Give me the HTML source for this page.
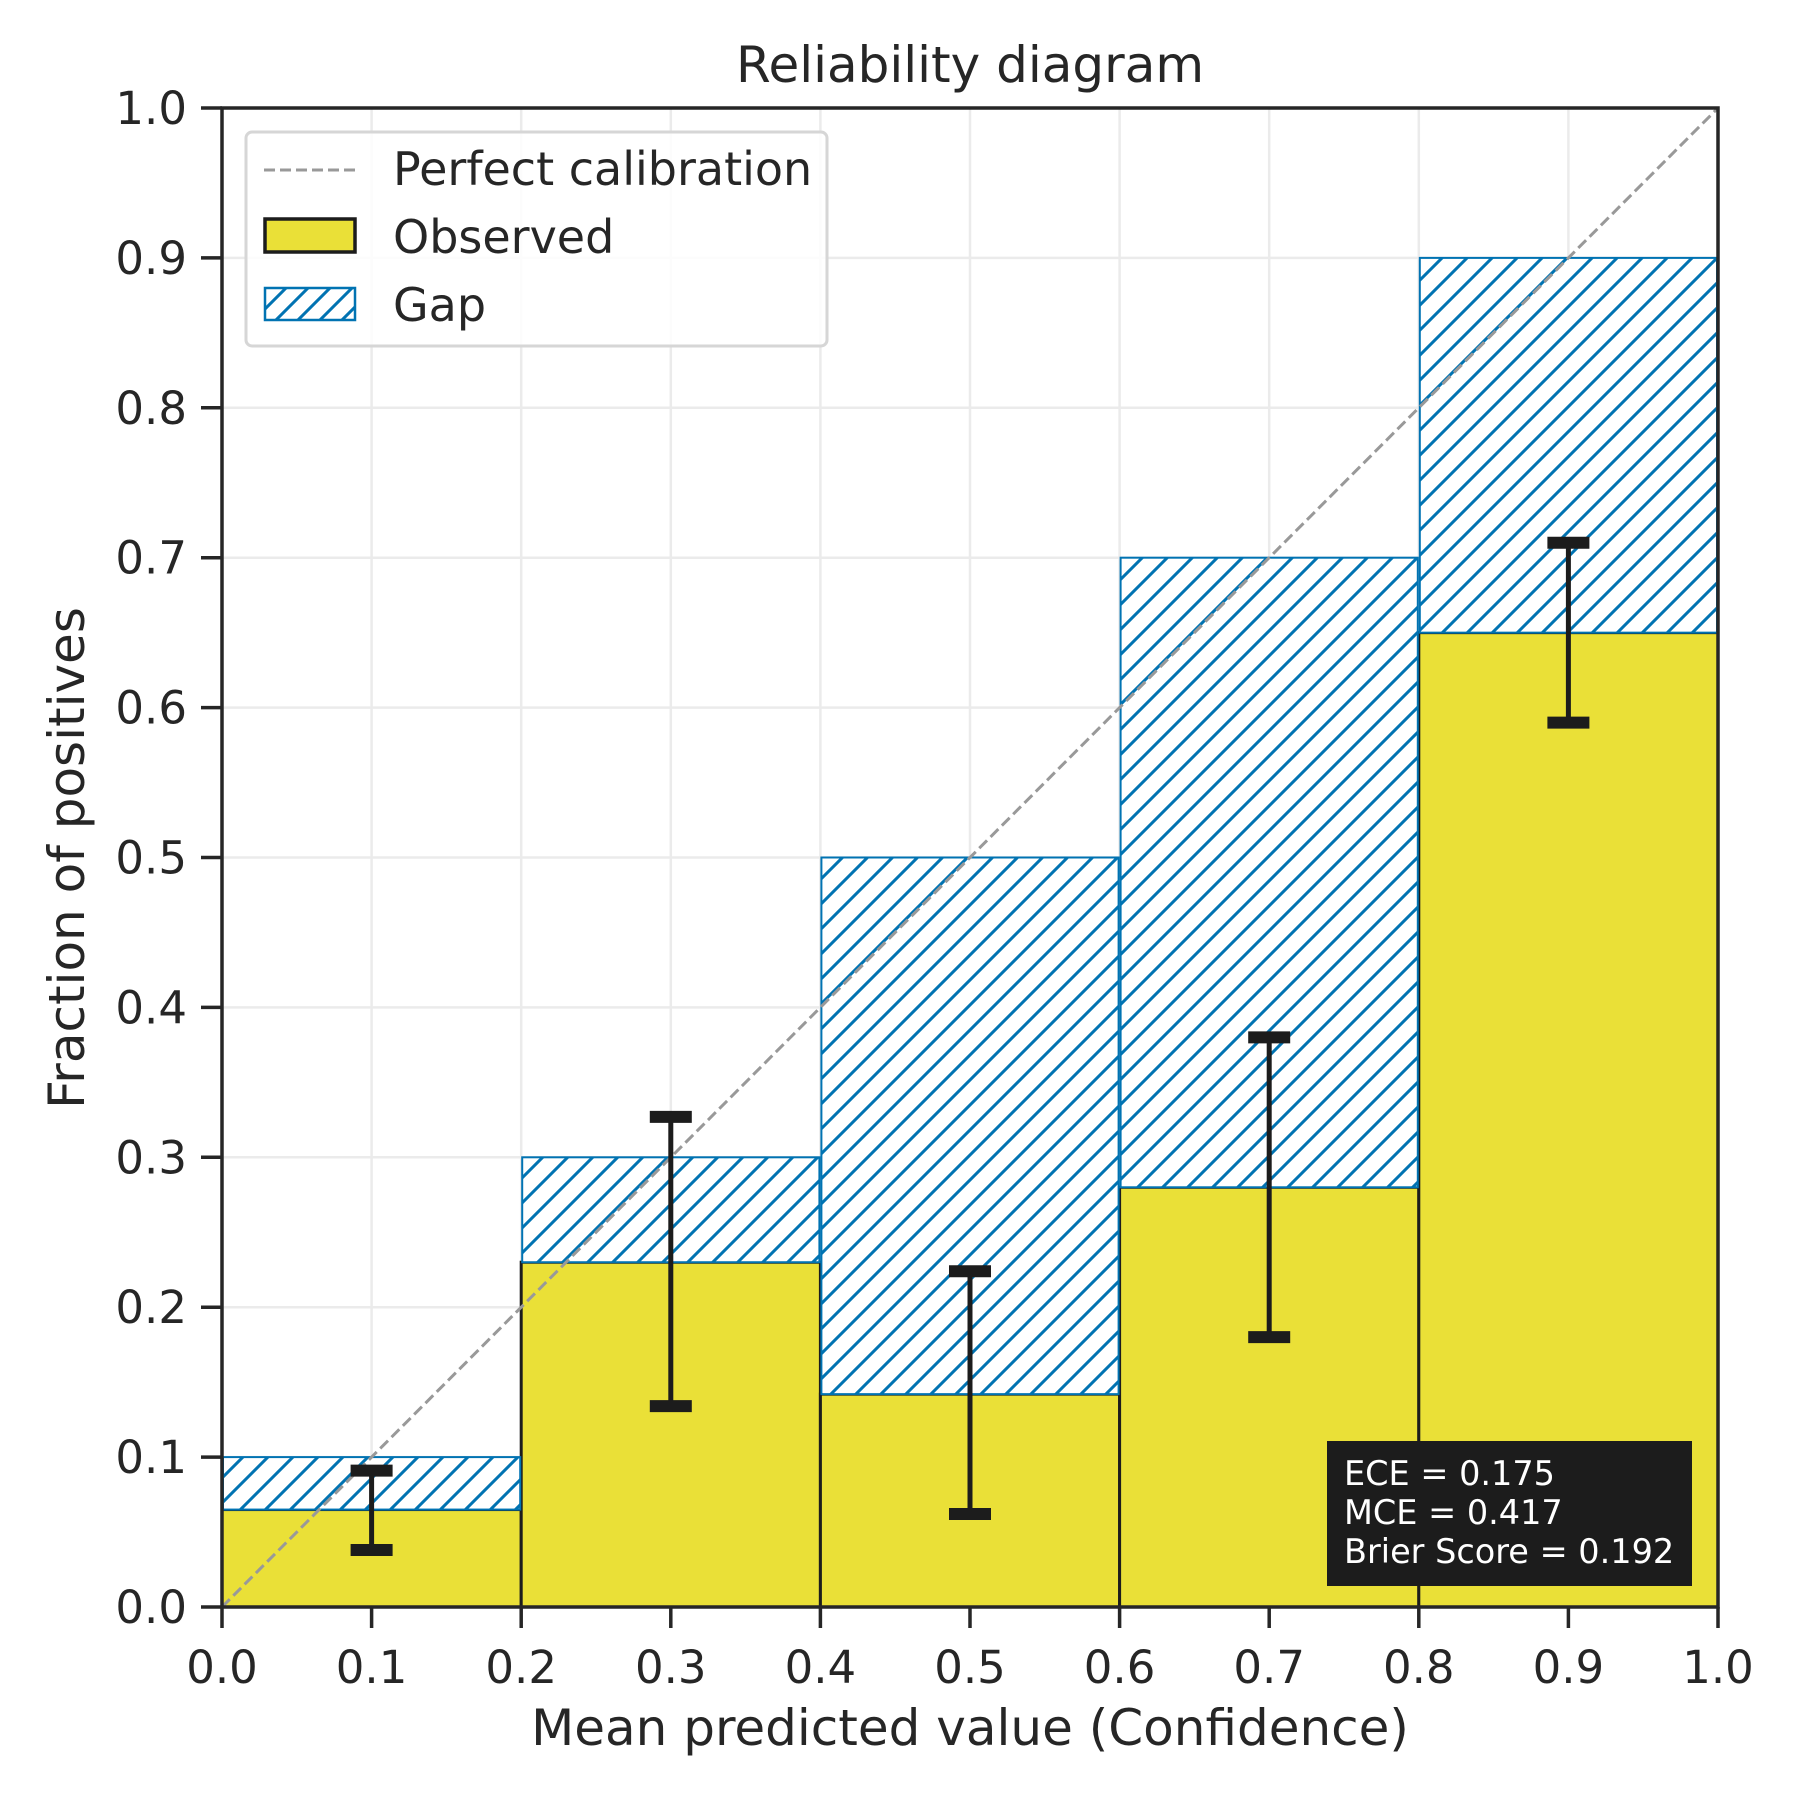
<!DOCTYPE html>
<html><head><meta charset="utf-8">
<style>
html,body{margin:0;padding:0;background:#fff;}
svg{display:block;font-family:"DejaVu Sans","Liberation Sans",sans-serif;}
</style></head>
<body>
<svg id="chart" width="1800" height="1800" viewBox="0 0 1800 1800" xmlns="http://www.w3.org/2000/svg">
<defs>
<pattern id="hatch" patternUnits="userSpaceOnUse" width="25" height="25">
<rect width="25" height="25" fill="#fff"/>
<path d="M-5,5 L5,-5 M0,25 L25,0 M20,30 L30,20" stroke="#0173B2" stroke-width="3"/>
</pattern>
<pattern id="hatchLeg" patternUnits="userSpaceOnUse" width="22" height="22" x="264" y="288">
<rect width="22" height="22" fill="#fff"/>
<path d="M-5,5 L5,-5 M0,22 L22,0 M17,27 L27,17" stroke="#0173B2" stroke-width="3"/>
</pattern>
</defs>
<g id="plot"></g>
</svg>
<script>
const binEdges = [0.0, 0.2, 0.4, 0.6, 0.8, 1.0];
const gapTops = [0.1, 0.3, 0.5, 0.7, 0.9];
const observed = [0.065, 0.23, 0.142, 0.28, 0.65];
const errX = [0.1, 0.3, 0.5, 0.7, 0.9];
const errLow = [0.038, 0.134, 0.062, 0.18, 0.59];
const errHigh = [0.091, 0.327, 0.224, 0.38, 0.71];
const xTicks = [0.0, 0.1, 0.2, 0.3, 0.4, 0.5, 0.6, 0.7, 0.8, 0.9, 1.0];
const yTicks = [0.0, 0.1, 0.2, 0.3, 0.4, 0.5, 0.6, 0.7, 0.8, 0.9, 1.0];

const L = 222, R = 1718, T = 108, B = 1607;
const sx = v => L + v * (R - L);
const sy = v => B - v * (B - T);
const NS = "http://www.w3.org/2000/svg";
const g = document.getElementById('plot');
function mk(tag, attrs, parent) {
  const e = document.createElementNS(NS, tag);
  for (const k in attrs) e.setAttribute(k, attrs[k]);
  (parent || g).appendChild(e);
  return e;
}

xTicks.forEach(t => {
  const e = mk('line', {x1: sx(t), x2: sx(t), y1: T, y2: B, stroke: '#ebebeb', 'stroke-width': 2.5});
  
  
});
yTicks.forEach(t => {
  const e = mk('line', {x1: L, x2: R, y1: sy(t), y2: sy(t), stroke: '#ebebeb', 'stroke-width': 2.5});
  
  
});

observed.forEach((v, i) => {
  const x0 = sx(binEdges[i]), x1 = sx(binEdges[i + 1]);
  const e = mk('rect', {x: x0, y: sy(v), width: x1 - x0, height: sy(0) - sy(v), fill: '#EAE037', stroke: '#1c1c1c', 'stroke-width': 3});
  
  
});
gapTops.forEach((v, i) => {
  const x0 = sx(binEdges[i]), x1 = sx(binEdges[i + 1]);
  const lo = observed[i];
  const e = mk('rect', {x: x0 + 1, y: sy(v), width: x1 - x0 - 2, height: sy(lo) - sy(v), fill: 'url(#hatch)', stroke: '#0173B2', 'stroke-width': 2});
  
  
});

const diag = mk('line', {x1: sx(0), y1: sy(0), x2: sx(1), y2: sy(1), stroke: '#999', 'stroke-width': 3, 'stroke-dasharray': '11,5'});



errX.forEach((x, i) => {
  const cx = sx(x);
  const eg = mk('g', {});
  
  
  mk('line', {x1: cx, x2: cx, y1: sy(errLow[i]), y2: sy(errHigh[i]), stroke: '#1c1c1c', 'stroke-width': 5}, eg);
  mk('line', {x1: cx - 21, x2: cx + 21, y1: sy(errLow[i]), y2: sy(errLow[i]), stroke: '#1c1c1c', 'stroke-width': 12}, eg);
  mk('line', {x1: cx - 21, x2: cx + 21, y1: sy(errHigh[i]), y2: sy(errHigh[i]), stroke: '#1c1c1c', 'stroke-width': 12}, eg);
});

const sp = mk('rect', {x: L, y: T, width: R - L, height: B - T, fill: 'none', stroke: '#262626', 'stroke-width': 3.5});



xTicks.forEach(t => {
  const e = mk('line', {x1: sx(t), x2: sx(t), y1: B, y2: B + 21, stroke: '#262626', 'stroke-width': 3.5});
  
  
  const tx = mk('text', {x: sx(t), y: B + 76, 'text-anchor': 'middle', 'font-size': 45, fill: '#262626'});
  tx.textContent = t.toFixed(1);
  
  
});
yTicks.forEach(t => {
  const e = mk('line', {x1: L - 21, x2: L, y1: sy(t), y2: sy(t), stroke: '#262626', 'stroke-width': 3.5});
  
  
  const tx = mk('text', {x: L - 35, y: sy(t) + 16, 'text-anchor': 'end', 'font-size': 45, fill: '#262626'});
  tx.textContent = t.toFixed(1);
  
  
});
</script>
<svg style="position:absolute;left:0;top:0" width="1800" height="1800" viewBox="0 0 1800 1800" xmlns="http://www.w3.org/2000/svg">
<text x="970" y="82" text-anchor="middle" font-size="50" fill="#262626" font-family="DejaVu Sans, Liberation Sans, sans-serif">Reliability diagram</text>
<text x="970" y="1745" text-anchor="middle" font-size="50" fill="#262626" font-family="DejaVu Sans, Liberation Sans, sans-serif">Mean predicted value (Confidence)</text>
<text x="0" y="0" transform="translate(84,858) rotate(-90)" text-anchor="middle" font-size="50" fill="#262626" font-family="DejaVu Sans, Liberation Sans, sans-serif">Fraction of positives</text>
<g font-family="DejaVu Sans, Liberation Sans, sans-serif">
<rect x="246" y="132" width="581" height="214" rx="6" fill="#fff" fill-opacity="0.85" stroke="#d6d6d6" stroke-width="3"/>
<g>
<line x1="264" y1="170" x2="356" y2="170" stroke="#999" stroke-width="3" stroke-dasharray="11,5"/>
<text x="393" y="185" font-size="46" fill="#262626">Perfect calibration</text>
</g>
<g>
<rect x="265" y="219" width="90" height="33" fill="#EAE037" stroke="#1c1c1c" stroke-width="3.5"/>
<text x="393" y="253" font-size="46" fill="#262626">Observed</text>
</g>
<g>
<rect x="265" y="288" width="90" height="32" fill="url(#hatchLeg)" stroke="#0173B2" stroke-width="2.5"/>
<text x="393" y="321" font-size="46" fill="#262626">Gap</text>
</g>
</g>
<g font-family="DejaVu Sans, Liberation Sans, sans-serif">
<rect x="1327" y="1441" width="365" height="145" fill="#1c1c1c"/>
<text x="1344" y="1485" font-size="33.5" fill="#fff">ECE = 0.175</text>
<text x="1344" y="1524" font-size="33.5" fill="#fff">MCE = 0.417</text>
<text x="1344" y="1563" font-size="33.5" fill="#fff">Brier Score = 0.192</text>
</g>
</svg>
</body></html>
